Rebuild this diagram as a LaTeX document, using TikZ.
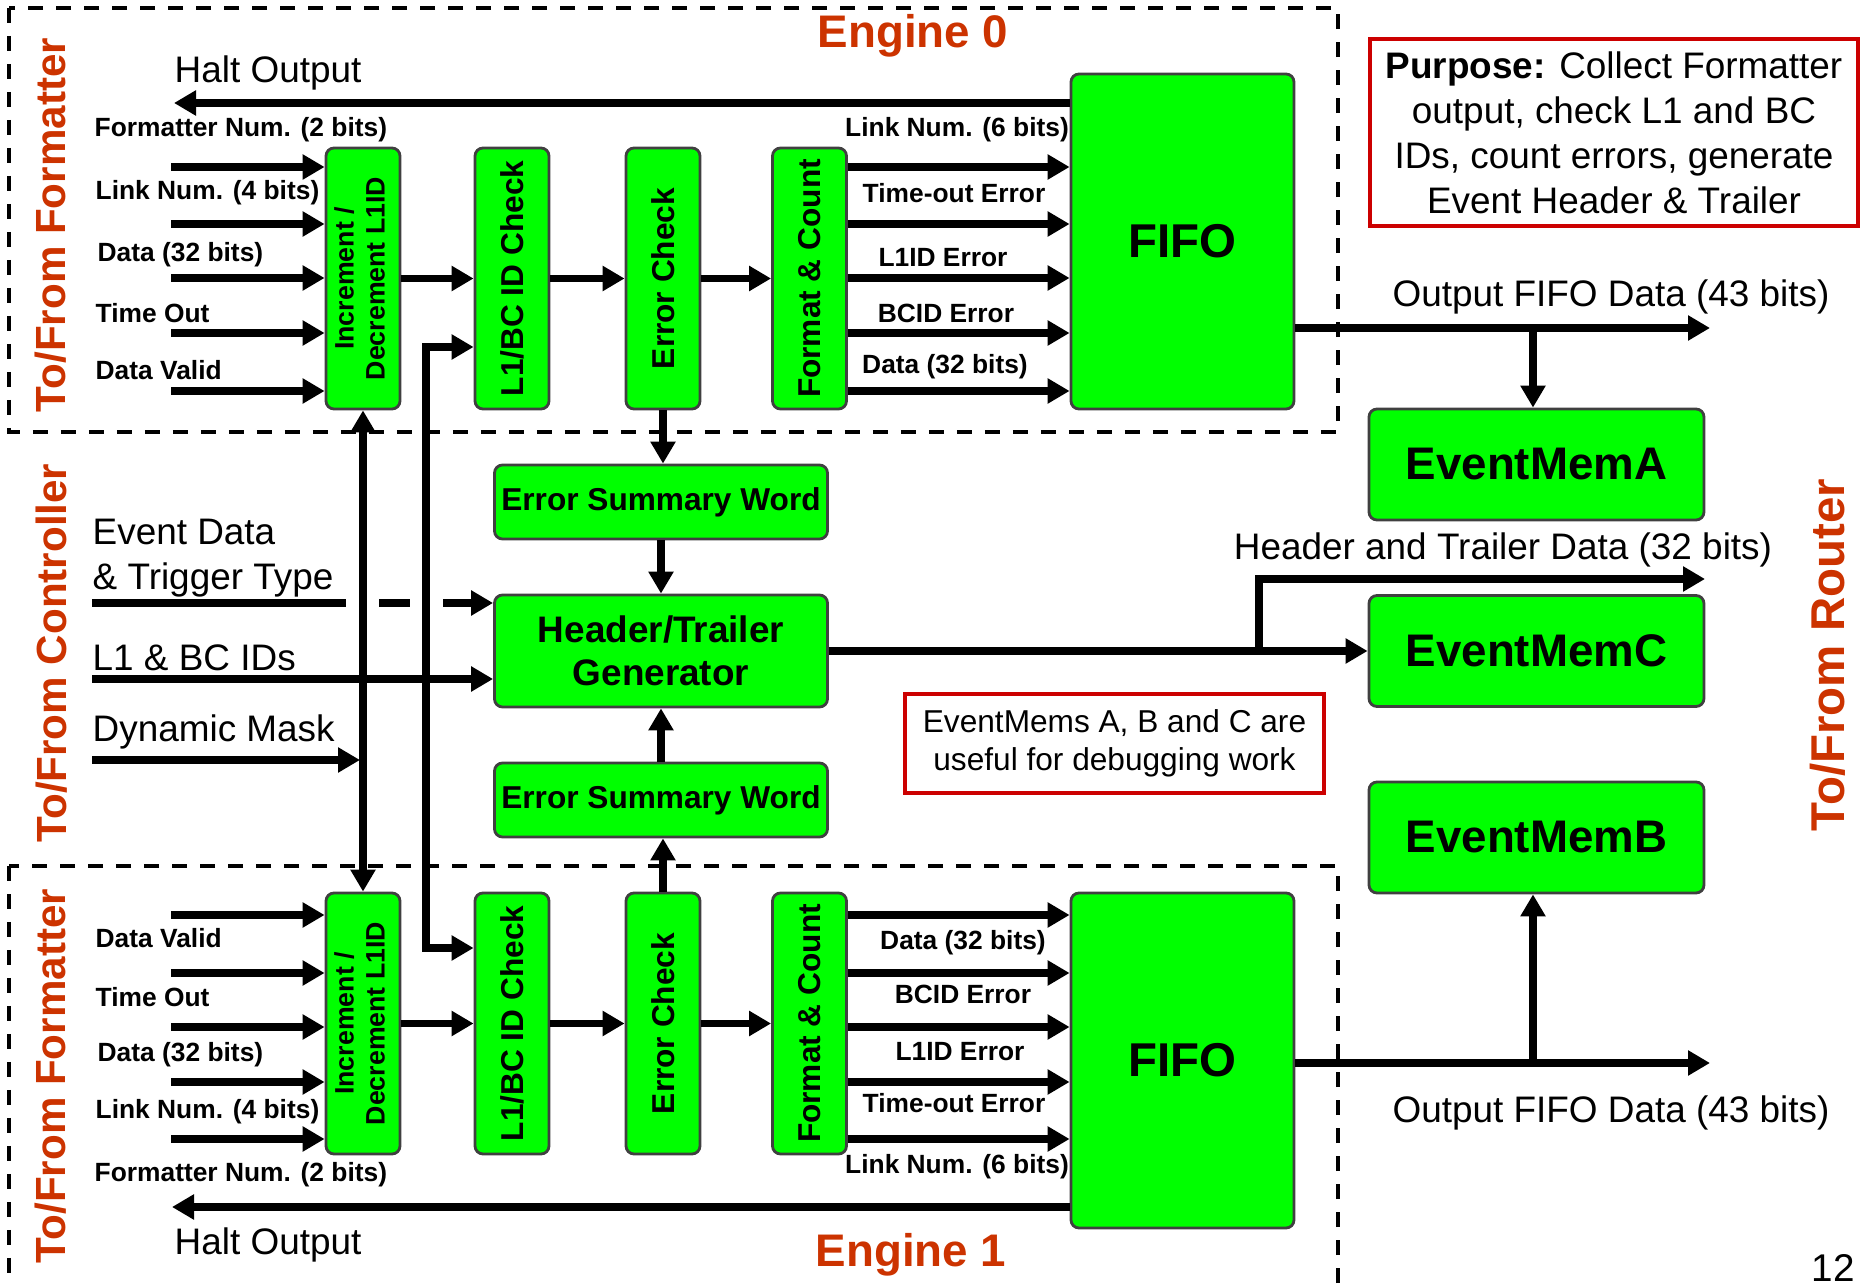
\documentclass[tikz,border=0pt]{standalone}
\usepackage{fontspec}
\setmainfont{Liberation Sans}
\usepackage{graphicx}
\usetikzlibrary{arrows.meta, calc}
\definecolor{boxgreen}{HTML}{00FF00}
\definecolor{rust}{HTML}{CC3300}
\definecolor{alert}{HTML}{CC0000}
\definecolor{edge}{HTML}{404040}
\newcommand{\fsz}[2]{\fontsize{#1}{#2}\selectfont}

\begin{document}
\begin{tikzpicture}[x=1cm, y=-1cm,
  blk/.style={draw=edge, line width=0.8pt, fill=boxgreen, rounded corners=0.08cm, inner sep=0pt},
  col/.style={blk, minimum width=0.74cm, minimum height=2.61cm, font=\fsz{9}{10}\bfseries},
  esw/.style={blk, minimum width=3.33cm, minimum height=0.74cm, font=\fsz{9}{10}\bfseries},
  mem/.style={blk, minimum width=3.35cm, minimum height=1.11cm, font=\fsz{13}{15}\bfseries},
  fifo/.style={blk, minimum width=2.23cm, minimum height=3.35cm, font=\fsz{13.5}{15}\bfseries},
  wire/.style={line width=2.1pt, -{Triangle[length=0.22cm, width=0.24cm]}},
  dwire/.style={line width=2.1pt, {Triangle[length=0.22cm, width=0.24cm]}-{Triangle[length=0.22cm, width=0.24cm]}},
  sig/.style={font=\fsz{7.5}{9}\bfseries, inner sep=0pt},
  txt/.style={font=\fsz{10.5}{12.8}, inner sep=0pt},
  side/.style={font=\fsz{12}{14}\bfseries, text=rust, rotate=90, inner sep=0pt},
  eng/.style={draw, dash pattern=on 0.15cm off 0.13cm, line width=1.1pt},
  note/.style={draw=alert, line width=1.4pt, fill=white, align=center, inner sep=0pt}
]
  \useasboundingbox (0,0) rectangle (18.61,12.85);
  % engine frames
  \draw[eng] (0.09,0.08) rectangle (13.38,4.32);
  \draw[eng] (0.09,8.66) rectangle (13.38,13.2);
  \node[font=\fsz{13}{15}\bfseries, text=rust] (eng0) at (9.13,0.36) {Engine 0};
  \node[font=\fsz{13}{15}\bfseries, text=rust] (eng1) at (9.11,12.55) {Engine 1};
  % side labels
  \node[side] (sideA) at (0.51,2.25) {To/From Formatter};
  \node[side] (sideC) at (0.52,6.53) {To/From Controller};
  \node[side] (sideB) at (0.51,10.76) {To/From Formatter};
  \node[side, font=\fsz{13.5}{15}\bfseries] (sideR) at (18.28,6.55) {To/From Router};

  % engine 0 blocks
  \node[col] (incA) at (3.63,2.785) {\rotatebox{90}{\fsz{7.6}{8.8}\begin{tabular}{@{}c@{}}Increment /\\Decrement L1ID\end{tabular}}};
  \node[col] (l1A) at (5.12,2.785) {\rotatebox{90}{L1/BC ID Check}};
  \node[col] (errA) at (6.63,2.785) {\rotatebox{90}{Error Check}};
  \node[col] (fmtA) at (8.095,2.785) {\rotatebox{90}{Format \& Count}};
  \node[fifo] (fifoA) at (11.825,2.415) {FIFO};
  \draw[wire] (incA) -- (l1A);
  \draw[wire] (l1A) -- (errA);
  \draw[wire] (errA) -- (fmtA);
  % engine 0 inputs
  \coordinate (inA1) at (1.71,1.67);
  \coordinate (inA2) at (1.71,2.24);
  \coordinate (inA3) at (1.71,2.78);
  \coordinate (inA4) at (1.71,3.33);
  \coordinate (inA5) at (1.71,3.91);
  \draw[wire] (inA1) -- (inA1 -| incA.west);
  \draw[wire] (inA2) -- (inA2 -| incA.west);
  \draw[wire] (inA3) -- (inA3 -| incA.west);
  \draw[wire] (inA4) -- (inA4 -| incA.west);
  \draw[wire] (inA5) -- (inA5 -| incA.west);
  \node[sig, anchor=west] (labA1) at (0.94,1.30) {Formatter Num. (2 bits)};
  \node[sig, anchor=west] (labA2) at (0.95,1.93) {Link Num. (4 bits)};
  \node[sig, anchor=west] (labA3) at (0.97,2.55) {Data (32 bits)};
  \node[sig, anchor=west] (labA4) at (0.95,3.13) {Time Out};
  \node[sig, anchor=west] (labA5) at (0.95,3.70) {Data Valid};
  % engine 0 outputs
  \draw[wire] (fmtA.east |- inA1) -- (fifoA.west |- inA1);
  \draw[wire] (fmtA.east |- inA2) -- (fifoA.west |- inA2);
  \draw[wire] (fmtA.east |- inA3) -- (fifoA.west |- inA3);
  \draw[wire] (fmtA.east |- inA4) -- (fifoA.west |- inA4);
  \draw[wire] (fmtA.east |- inA5) -- (fifoA.west |- inA5);
  \node[sig] (outA1) at (9.57,1.30) {Link Num. (6 bits)};
  \node[sig] (outA2) at (9.54,1.93) {Time-out Error};
  \node[sig] (outA3) at (9.43,2.58) {L1ID Error};
  \node[sig] (outA4) at (9.46,3.13) {BCID Error};
  \node[sig] (outA5) at (9.45,3.67) {Data (32 bits)};
  % halt 0
  \coordinate (haltA) at (1.74,1.03);
  \draw[wire] (fifoA.west |- haltA) -- (haltA);
  \node[txt, anchor=west] (haltlabA) at (1.74,0.73) {Halt Output};
  % fifo 0 out
  \coordinate (fifoOutA) at (17.10,3.28);
  \coordinate (tapA) at (15.33,3.28);
  \draw[wire] (fifoA.east |- fifoOutA) -- (fifoOutA);
  \node[txt] (fifolabA) at (16.11,2.97) {Output FIFO Data (43 bits)};

  % purpose
  \node[note, minimum width=4.88cm, minimum height=1.87cm, font=\fsz{10.5}{12.8}] (purpose) at (16.14,1.325)
    {\textbf{Purpose:} Collect Formatter\\output, check L1 and BC\\IDs, count errors, generate\\Event Header \& Trailer};

  % event memories
  \node[mem] (memA) at (15.365,4.645) {EventMemA};
  \node[mem] (memC) at (15.365,6.51) {EventMemC};
  \node[mem] (memB) at (15.365,8.375) {EventMemB};
  \draw[wire] (tapA) -- (tapA |- memA.north);

  % header / trailer
  \node[esw] (eswA) at (6.61,5.02) {Error Summary Word};
  \node[blk, minimum width=3.33cm, minimum height=1.12cm, align=center, font=\fsz{10.5}{12.3}\bfseries] (htg) at (6.61,6.51) {Header/Trailer\\Generator};
  \node[esw] (eswB) at (6.61,8.00) {Error Summary Word};
  \draw[wire] (errA.south) -- (errA.south |- eswA.north);
  \draw[wire] (eswA) -- (htg);
  \draw[wire] (eswB) -- (htg);
  \coordinate (tapC) at (12.59,6.51);
  \coordinate (hdrOut) at (17.05,5.79);
  \draw[wire] (htg) -- (memC);
  \draw[wire] (tapC) |- (hdrOut);
  \node[txt] (hdrlab) at (15.03,5.50) {Header and Trailer Data (32 bits)};
  \node[note, minimum width=4.19cm, minimum height=0.99cm, font=\fsz{9}{10.8}] (debug) at (11.145,7.435)
    {EventMems A, B and C are\\useful for debugging work};

  % controller inputs
  \node[txt, anchor=west, align=left] (evlab) at (0.92,5.58) {Event Data\\\& Trigger Type};
  \coordinate (evIn) at (0.92,6.03);
  \draw[wire, dash pattern=on 2.54cm off 0.33cm on 0.31cm off 0.33cm on 2cm] (evIn) -- (evIn -| htg.west);
  \node[txt, anchor=west] (l1lab) at (0.92,6.58) {L1 \& BC IDs};
  \coordinate (l1In) at (0.92,6.79);
  \draw[wire] (l1In) -- (l1In -| htg.west);
  \node[txt, anchor=west] (masklab) at (0.92,7.32) {Dynamic Mask};
  \coordinate (maskIn) at (0.92,7.60);
  \coordinate (maskEnd) at (3.60,7.60);
  \draw[wire] (maskIn) -- (maskEnd);

  % engine 1 blocks
  \node[col] (incB) at (3.63,10.235) {\rotatebox{90}{\fsz{7.6}{8.8}\begin{tabular}{@{}c@{}}Increment /\\Decrement L1ID\end{tabular}}};
  \node[col] (l1B) at (5.12,10.235) {\rotatebox{90}{L1/BC ID Check}};
  \node[col] (errB) at (6.63,10.235) {\rotatebox{90}{Error Check}};
  \node[col] (fmtB) at (8.095,10.235) {\rotatebox{90}{Format \& Count}};
  \node[fifo] (fifoB) at (11.825,10.605) {FIFO};
  \draw[wire] (incB) -- (l1B);
  \draw[wire] (l1B) -- (errB);
  \draw[wire] (errB) -- (fmtB);
  \draw[wire] (errB.north) -- (errB.north |- eswB.south);
  % shared lines between engines
  \draw[dwire] (incA.south) -- (incB.north);
  \coordinate (busA) at (4.26,3.47);
  \coordinate (busB) at (4.26,9.48);
  \draw[dwire] (busA -| l1A.west) -- (busA) -- (busB) -- (busB -| l1B.west);
  % engine 1 inputs
  \coordinate (inB1) at (1.71,9.15);
  \coordinate (inB2) at (1.71,9.73);
  \coordinate (inB3) at (1.71,10.27);
  \coordinate (inB4) at (1.71,10.82);
  \coordinate (inB5) at (1.71,11.39);
  \draw[wire] (inB1) -- (inB1 -| incB.west);
  \draw[wire] (inB2) -- (inB2 -| incB.west);
  \draw[wire] (inB3) -- (inB3 -| incB.west);
  \draw[wire] (inB4) -- (inB4 -| incB.west);
  \draw[wire] (inB5) -- (inB5 -| incB.west);
  \node[sig, anchor=west] (labB1) at (0.95,9.38) {Data Valid};
  \node[sig, anchor=west] (labB2) at (0.95,9.97) {Time Out};
  \node[sig, anchor=west] (labB3) at (0.97,10.55) {Data (32 bits)};
  \node[sig, anchor=west] (labB4) at (0.95,11.12) {Link Num. (4 bits)};
  \node[sig, anchor=west] (labB5) at (0.94,11.75) {Formatter Num. (2 bits)};
  % engine 1 outputs
  \draw[wire] (fmtB.east |- inB1) -- (fifoB.west |- inB1);
  \draw[wire] (fmtB.east |- inB2) -- (fifoB.west |- inB2);
  \draw[wire] (fmtB.east |- inB3) -- (fifoB.west |- inB3);
  \draw[wire] (fmtB.east |- inB4) -- (fifoB.west |- inB4);
  \draw[wire] (fmtB.east |- inB5) -- (fifoB.west |- inB5);
  \node[sig] (outB1) at (9.63,9.43) {Data (32 bits)};
  \node[sig] (outB2) at (9.63,9.94) {BCID Error};
  \node[sig] (outB3) at (9.60,10.52) {L1ID Error};
  \node[sig] (outB4) at (9.54,11.03) {Time-out Error};
  \node[sig] (outB5) at (9.57,11.67) {Link Num. (6 bits)};
  % halt 1
  \coordinate (haltB) at (1.72,12.07);
  \draw[wire] (fifoB.west |- haltB) -- (haltB);
  \node[txt, anchor=west] (haltlabB) at (1.74,12.45) {Halt Output};
  % fifo 1 out
  \coordinate (fifoOutB) at (17.10,10.63);
  \coordinate (tapB) at (15.33,10.63);
  \draw[wire] (fifoB.east |- fifoOutB) -- (fifoOutB);
  \draw[wire] (tapB) -- (tapB |- memB.south);
  \node[txt] (fifolabB) at (16.11,11.13) {Output FIFO Data (43 bits)};

  \node[font=\fsz{11}{13}, anchor=south, inner sep=0pt] (pageno) at (18.33,12.82) {12};
\end{tikzpicture}
\end{document}
